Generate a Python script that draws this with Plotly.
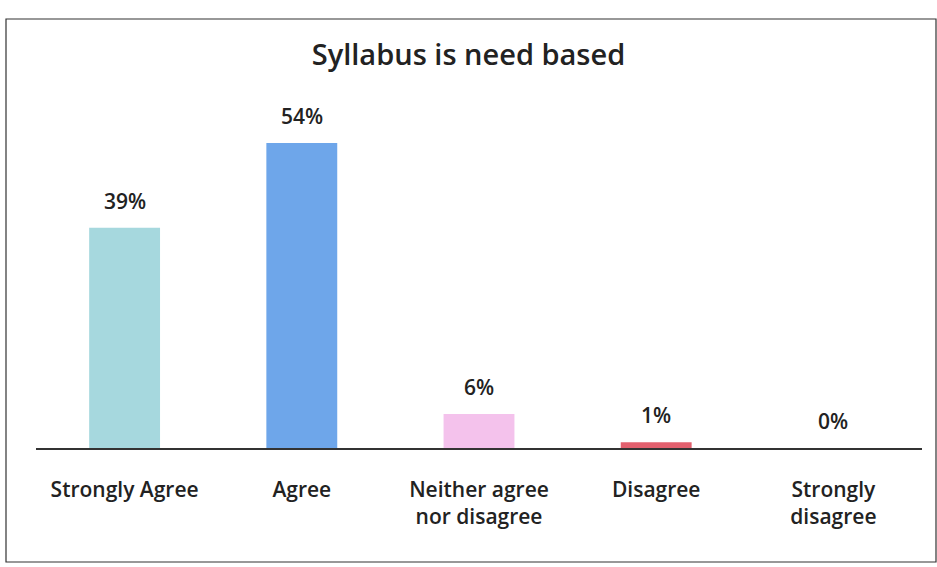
import plotly.graph_objects as go

categories = ["Strongly Agree", "Agree", "Neither agree<br>nor disagree", "Disagree", "Strongly<br>disagree"]
values = [39, 54, 6, 1, 0]
labels = ["39%", "54%", "6%", "1%", "0%"]
colors = ["#a6d8de", "#6ea6ea", "#f4c2ec", "#e2606e", "#ffffff"]

W, H = 937, 567
L, R, T, B = 36, 15, 109, 119
pw, ph = W - L - R, H - T - B

def px_x(p):
    return (p - L) / pw

def px_y(p):
    return (H - B - p) / ph

fig = go.Figure()
fig.add_trace(go.Bar(
    x=categories, y=values, width=0.4,
    marker=dict(color=colors, line=dict(width=0)),
    hoverinfo="skip",
))

for c, v, t in zip(categories, values, labels):
    fig.add_annotation(x=c, y=v, text=t, showarrow=False, yanchor="middle",
                       yshift=27, font=dict(family="Open Sans", size=21, color="#222222", weight=600))

fig.add_shape(type="rect", xref="paper", yref="paper",
              x0=px_x(6), x1=px_x(936), y0=px_y(562), y1=px_y(19),
              line=dict(color="#333333", width=1.2), layer="below")

fig.update_layout(
    width=W, height=H,
    margin=dict(l=L, r=R, t=T, b=B),
    paper_bgcolor="white", plot_bgcolor="white",
    title=dict(text="Syllabus is need based", x=0.5, xanchor="center",
               y=1 - 55 / H, yanchor="middle",
               font=dict(family="Open Sans", size=29, color="#222222", weight=600)),
    font=dict(family="Open Sans", size=21, color="#222222"),
    showlegend=False, bargap=0.6,
    xaxis=dict(showline=True, linecolor="#333333", linewidth=1.5,
               ticks="", tickfont=dict(family="Open Sans", size=21, color="#222222", weight=600),
               ticklabelstandoff=22),
    yaxis=dict(range=[0, 60], visible=False, showgrid=False),
)

fig.write_html("out.html", config={"displayModeBar": False},
               post_script="document.body.style.margin='0';")
